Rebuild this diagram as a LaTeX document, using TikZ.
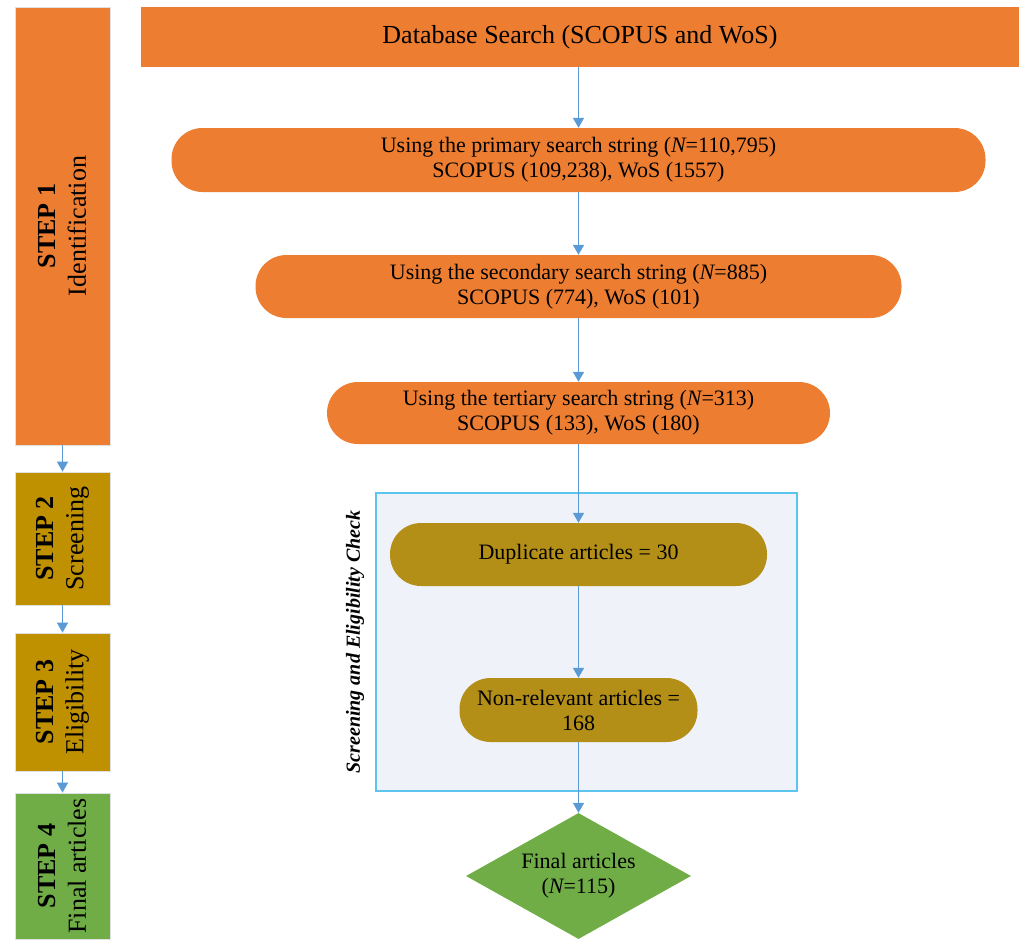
\documentclass[tikz,border=0pt]{standalone}
\usepackage{fontspec}
\setmainfont{Liberation Serif}
\usetikzlibrary{arrows.meta,shapes.geometric}
\definecolor{orng}{HTML}{ED7D31}
\definecolor{gold}{HTML}{BF9000}
\definecolor{goldb}{HTML}{B48F18}
\definecolor{grn}{HTML}{70AD47}
\definecolor{arr}{HTML}{5B9BD5}
\definecolor{frameb}{HTML}{5BC5F0}
\definecolor{framef}{HTML}{EFF3F9}
\begin{document}
\begin{tikzpicture}[x=1pt,y=-1pt,
  stepbox/.style={draw=black!12, line width=0.8pt, minimum width=95pt, inner sep=0pt},
  steptext/.style={rotate=90, align=center, inner sep=0pt, font=\fontsize{26}{30}\selectfont},
  pill/.style={rounded corners=31pt, inner sep=0pt, align=center, font=\fontsize{22}{25}\selectfont},
  conn/.style={draw=arr, line width=1.6pt, -{Triangle[width=11pt,length=10pt]}},
]
\useasboundingbox (0,0) rectangle (1019,939);

% left step column
\node[stepbox, fill=orng, minimum height=438pt] (s1) at (62.5,226) {};
\node[steptext] (t1) at (s1) {\textbf{STEP 1}\\Identification};
\node[stepbox, fill=gold, minimum height=133pt] (s2) at (62.5,538.5) {};
\node[steptext] (t2) at (s2) {\textbf{STEP 2}\\Screening};
\node[stepbox, fill=gold, minimum height=138pt] (s3) at (62.5,702) {};
\node[steptext] (t3) at (s3) {\textbf{STEP 3}\\Eligibility};
\node[stepbox, fill=grn, minimum height=146pt] (s4) at (62.5,866) {};
\node[steptext] (t4) at (s4) {\textbf{STEP 4}\\Final articles};

% screening frame
\node[draw=frameb, fill=framef, line width=1.4pt, minimum width=421pt, minimum height=298pt, inner sep=0pt] (frame) at (586.5,642) {};
\node[rotate=90, inner sep=0pt, font=\bfseries\itshape\fontsize{20}{24}\selectfont] (flabel) at (355,642) {Screening and Eligibility Check};

% main flow
\node[fill=orng, inner sep=0pt, minimum width=878pt, minimum height=60pt, font=\fontsize{26}{30}\selectfont] (db) at (580,37) {Database Search (SCOPUS and WoS)};
\node[pill, fill=orng, minimum width=814pt, minimum height=64pt] (p1) at (578.5,160)
  {Using the primary search string ({\itshape N}=110,795)\\SCOPUS (109,238), WoS (1557)};
\node[pill, fill=orng, minimum width=646pt, minimum height=63pt] (p2) at (578.5,286.5)
  {Using the secondary search string ({\itshape N}=885)\\SCOPUS (774), WoS (101)};
\node[pill, fill=orng, minimum width=503pt, minimum height=62pt] (p3) at (578.5,413)
  {Using the tertiary search string ({\itshape N}=313)\\SCOPUS (133), WoS (180)};
\node[pill, fill=goldb, minimum width=377pt, minimum height=63pt] (dup) at (578.5,554.5)
  {Duplicate articles = 30};
\node[pill, fill=goldb, minimum width=238pt, minimum height=64pt] (nonrel) at (578.5,710)
  {Non-relevant articles =\\168};
\node[diamond, fill=grn, inner sep=0pt, aspect=1.786, minimum width=225pt, minimum height=126pt, align=center, font=\fontsize{22}{25}\selectfont] (final) at (578.5,876)
  {Final articles\\({\itshape N}=115)};

% connectors
\draw[conn] (p1.north |- db.south) -- (p1.north);
\draw[conn] (p1.south) -- (p2.north);
\draw[conn] (p2.south) -- (p3.north);
\draw[conn] (p3.south) -- (dup.north);
\draw[conn] (dup.south) -- (nonrel.north);
\draw[conn] (nonrel.south) -- (final.north);
\draw[conn] (s1.south) -- (s2.north);
\draw[conn] (s2.south) -- (s3.north);
\draw[conn] (s3.south) -- (s4.north);
\end{tikzpicture}
\end{document}
